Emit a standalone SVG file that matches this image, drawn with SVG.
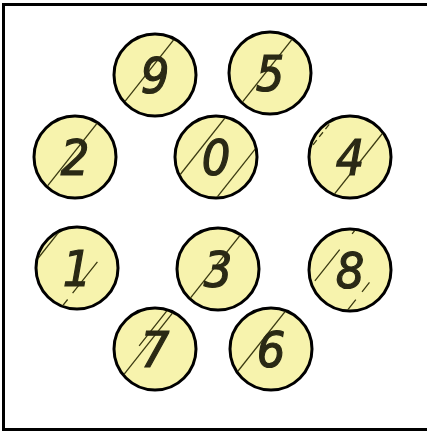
<svg xmlns="http://www.w3.org/2000/svg" width="427" height="433" viewBox="0 0 427 433">
<style>
.c{fill:#f7f3ad;stroke:#000;stroke-width:3}
.h{stroke:#3b3a12;stroke-width:1.3;fill:none}
.d{font-family:"DejaVu Sans Condensed","DejaVu Sans",sans-serif;font-style:oblique;font-size:50px;fill:#2a2915;stroke:#2a2915;stroke-width:1.2;text-anchor:middle}
</style>
<defs>
<clipPath id="cc" clipPathUnits="userSpaceOnUse"><circle r="40"/></clipPath>
<line id="hl" x1="-38" y1="48" x2="38" y2="-48"/>
</defs>
<rect x="3.5" y="4.5" width="440" height="425" fill="#fff" stroke="#000" stroke-width="3"/>
<g id="n9" transform="translate(155,75)">
<circle class="c" r="41"/>
<g clip-path="url(#cc)" class="h"><use href="#hl" transform="translate(-6,-4)"/></g>
<text class="d" y="18">9</text>
</g>
<g id="n5" transform="translate(270,73)">
<circle class="c" r="41"/>
<g clip-path="url(#cc)" class="h"><use href="#hl" transform="translate(-3,-2)"/></g>
<text class="d" y="18">5</text>
</g>
<g id="n2" transform="translate(75,157)">
<circle class="c" r="41"/>
<g clip-path="url(#cc)" class="h"><use href="#hl" transform="translate(-3,-2)"/></g>
<text class="d" y="18">2</text>
</g>
<g id="n0" transform="translate(216,157)">
<circle class="c" r="41"/>
<g clip-path="url(#cc)" class="h"><use href="#hl" transform="translate(-14,-10)"/><use href="#hl" transform="translate(21,15)"/></g>
<text class="d" y="18">0</text>
</g>
<g id="n4" transform="translate(350,157)">
<circle class="c" r="41"/>
<g clip-path="url(#cc)" class="h"><use href="#hl" transform="translate(9,6)"/><use href="#hl" transform="translate(-30,-21)" stroke-dasharray="6 4"/></g>
<text class="d" y="18">4</text>
</g>
<g id="n1" transform="translate(77,268)">
<circle class="c" r="41"/>
<g clip-path="url(#cc)" class="h"><use href="#hl" transform="translate(10,7)" stroke-dasharray="30 8 40"/><use href="#hl" transform="translate(-30,-21)"/></g>
<text class="d" y="18">1</text>
</g>
<g id="n3" transform="translate(218,269)">
<circle class="c" r="41"/>
<g clip-path="url(#cc)" class="h"><use href="#hl" transform="translate(-3,-2)"/></g>
<text class="d" y="18">3</text>
</g>
<g id="n8" transform="translate(350,270)">
<circle class="c" r="41"/>
<g clip-path="url(#cc)" class="h"><use href="#hl" transform="translate(19,13)" stroke-dasharray="40 10 12"/><use href="#hl" transform="translate(-17,-12)" stroke-dasharray="20 12 40"/></g>
<text class="d" y="18">8</text>
</g>
<g id="n7" transform="translate(155,349)">
<circle class="c" r="41"/>
<g clip-path="url(#cc)" class="h"><use href="#hl" transform="translate(-7,-5)"/><use href="#hl" transform="translate(-12,-8)" stroke-dasharray="0 55 20"/></g>
<text class="d" y="18">7</text>
</g>
<g id="n6" transform="translate(271,349)">
<circle class="c" r="41"/>
<g clip-path="url(#cc)" class="h"><use href="#hl" transform="translate(-10,-7)"/></g>
<text class="d" y="18">6</text>
</g>
</svg>
